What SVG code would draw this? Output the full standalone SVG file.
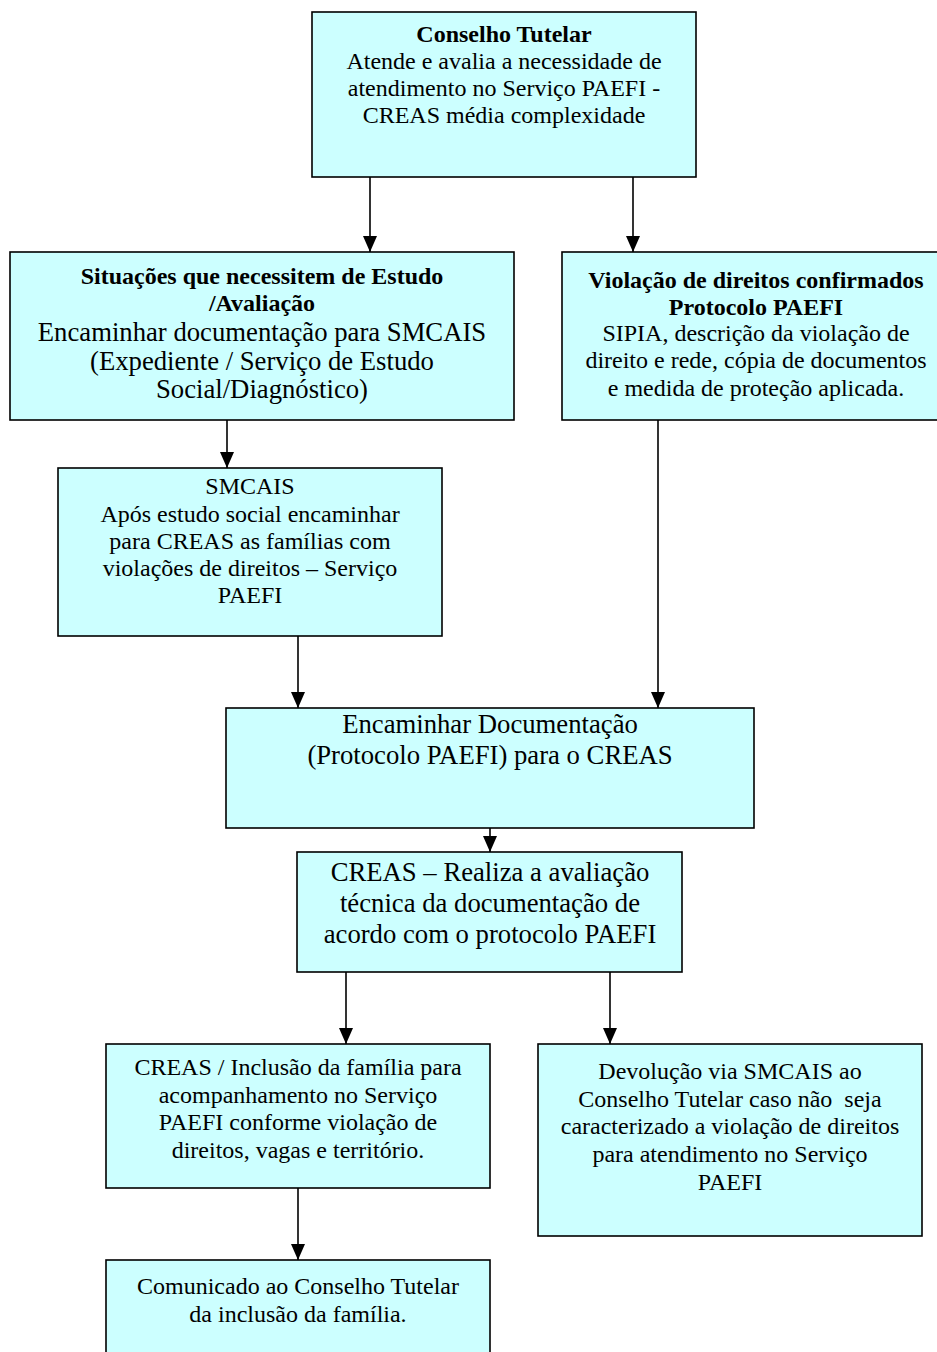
<svg xmlns="http://www.w3.org/2000/svg" width="937" height="1352" viewBox="0 0 937 1352">
<style>
.box{fill:#CCFFFF;stroke:#000;stroke-width:1.6}
text{font-family:"Liberation Serif","Times New Roman",serif;fill:#000;text-anchor:middle}
.b{font-weight:bold}
.s24{font-size:24px}
.s27{font-size:26.7px}
.conn line{stroke:#000;stroke-width:1.6;marker-end:url(#ah)}
</style>
<defs>
<marker id="ah" markerUnits="userSpaceOnUse" markerWidth="16" markerHeight="14" viewBox="0 0 16 14" refX="16" refY="7" orient="auto">
<path d="M0,0 L16,7 L0,14 Z" fill="#000"/>
</marker>
</defs>
<rect width="937" height="1352" fill="#fff"/>
<g class="conn">
<line x1="370" y1="177" x2="370" y2="252"/>
<line x1="633" y1="177" x2="633" y2="252"/>
<line x1="227" y1="420" x2="227" y2="468"/>
<line x1="298" y1="636" x2="298" y2="708"/>
<line x1="658" y1="420" x2="658" y2="708"/>
<line x1="490" y1="828" x2="490" y2="852"/>
<line x1="346" y1="972" x2="346" y2="1044"/>
<line x1="610" y1="972" x2="610" y2="1044"/>
<line x1="298" y1="1188" x2="298" y2="1260"/>
</g>
<g id="conselho">
<rect class="box" x="312" y="12" width="384" height="165"/>
<text class="s24 b" x="504" y="42">Conselho Tutelar</text>
<text class="s24" x="504" y="69">Atende e avalia a necessidade de</text>
<text class="s24" x="504" y="96">atendimento no Serviço PAEFI -</text>
<text class="s24" x="504" y="123">CREAS média complexidade</text>
</g>
<g id="situacoes">
<rect class="box" x="10" y="252" width="504" height="168"/>
<text class="s24 b" x="262" y="284">Situações que necessitem de Estudo</text>
<text class="s24 b" x="262" y="311">/Avaliação</text>
<text class="s27" x="262" y="341">Encaminhar documentação para SMCAIS</text>
<text class="s27" x="262" y="370">(Expediente / Serviço de Estudo</text>
<text class="s27" x="262" y="398">Social/Diagnóstico)</text>
</g>
<g id="violacao">
<rect class="box" x="562" y="252" width="380" height="168"/>
<text class="s24 b" x="756" y="288">Violação de direitos confirmados</text>
<text class="s24 b" x="756" y="315">Protocolo PAEFI</text>
<text class="s24" x="756" y="341">SIPIA, descrição da violação de</text>
<text class="s24" x="756" y="368">direito e rede, cópia de documentos</text>
<text class="s24" x="756" y="396">e medida de proteção aplicada.</text>
</g>
<g id="smcais">
<rect class="box" x="58" y="468" width="384" height="168"/>
<text class="s24" x="250" y="494">SMCAIS</text>
<text class="s24" x="250" y="522">Após estudo social encaminhar</text>
<text class="s24" x="250" y="549">para CREAS as famílias com</text>
<text class="s24" x="250" y="576">violações de direitos – Serviço</text>
<text class="s24" x="250" y="603">PAEFI</text>
</g>
<g id="encaminhar">
<rect class="box" x="226" y="708" width="528" height="120"/>
<text class="s27" x="490" y="733">Encaminhar Documentação</text>
<text class="s27" x="490" y="764">(Protocolo PAEFI) para o CREAS</text>
</g>
<g id="creas">
<rect class="box" x="297" y="852" width="385" height="120"/>
<text class="s27" x="490" y="881">CREAS – Realiza a avaliação</text>
<text class="s27" x="490" y="912">técnica da documentação de</text>
<text class="s27" x="490" y="943">acordo com o protocolo PAEFI</text>
</g>
<g id="inclusao">
<rect class="box" x="106" y="1044" width="384" height="144"/>
<text class="s24" x="298" y="1075">CREAS / Inclusão da família para</text>
<text class="s24" x="298" y="1103">acompanhamento no Serviço</text>
<text class="s24" x="298" y="1130">PAEFI conforme violação de</text>
<text class="s24" x="298" y="1158">direitos, vagas e território.</text>
</g>
<g id="devolucao">
<rect class="box" x="538" y="1044" width="384" height="192"/>
<text class="s24" x="730" y="1079">Devolução via SMCAIS ao</text>
<text class="s24" x="730" y="1107" xml:space="preserve">Conselho Tutelar caso não  seja</text>
<text class="s24" x="730" y="1134">caracterizado a violação de direitos</text>
<text class="s24" x="730" y="1162">para atendimento no Serviço</text>
<text class="s24" x="730" y="1190">PAEFI</text>
</g>
<g id="comunicado">
<rect class="box" x="106" y="1260" width="384" height="110"/>
<text class="s24" x="298" y="1294">Comunicado ao Conselho Tutelar</text>
<text class="s24" x="298" y="1322">da inclusão da família.</text>
</g>
</svg>
